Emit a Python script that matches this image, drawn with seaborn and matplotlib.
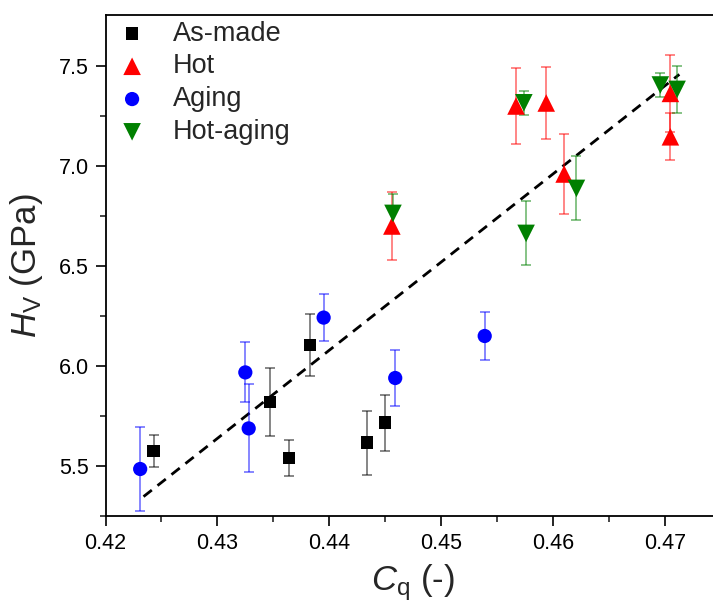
import matplotlib
matplotlib.use("Agg")
import matplotlib.pyplot as plt
import seaborn as sns
import pandas as pd

# values
asmade_x = [0.4243, 0.4347, 0.4364, 0.4383, 0.4434, 0.4450]
asmade_y = [5.575, 5.82, 5.54, 6.105, 5.617, 5.717]
asmade_e = [0.08, 0.168, 0.09, 0.157, 0.16, 0.14]

hot_x = [0.4456, 0.4567, 0.4594, 0.4610, 0.4705, 0.4705]
hot_y = [6.70, 7.30, 7.315, 6.96, 7.363, 7.146]
hot_e = [0.17, 0.19, 0.178, 0.20, 0.193, 0.117]

aging_x = [0.4231, 0.4325, 0.4328, 0.4395, 0.4459, 0.4539]
aging_y = [5.485, 5.968, 5.688, 6.242, 5.94, 6.15]
aging_e = [0.21, 0.15, 0.22, 0.118, 0.142, 0.118]

hotaging_x = [0.4457, 0.4574, 0.4576, 0.4621, 0.4696, 0.4711]
hotaging_y = [6.763, 7.316, 6.663, 6.888, 7.405, 7.383]
hotaging_e = [0.095, 0.06, 0.16, 0.16, 0.06, 0.118]

fit_x = [0.4234, 0.4713]
fit_y = [5.347, 7.458]

groups = [
    ("As-made", asmade_x, asmade_y, asmade_e, "black", "s", 80),
    ("Hot", hot_x, hot_y, hot_e, "red", "^", 160),
    ("Aging", aging_x, aging_y, aging_e, "blue", "o", 105),
    ("Hot-aging", hotaging_x, hotaging_y, hotaging_e, "green", "v", 160),
]

sns.set_style("ticks")
plt.rcParams["font.family"] = ["Liberation Sans", "DejaVu Sans"]
plt.rcParams["mathtext.fontset"] = "custom"
plt.rcParams["mathtext.rm"] = "Liberation Sans"
plt.rcParams["mathtext.it"] = "Liberation Sans:italic"

fig = plt.figure(figsize=(7.13, 6.08), dpi=100)
ax = fig.add_axes([105.5 / 713, 1 - 516 / 608, 0.055 * 11186 / 713, 501 / 608])

ax.plot(fit_x, fit_y, color="black", lw=2.0, ls=(0, (3.8, 2.6)), zorder=2)

for name, xs, ys, es, col, mk, size in groups:
    ax.errorbar(xs, ys, yerr=es, fmt="none", ecolor=col, alpha=0.6,
                elinewidth=1.1, capsize=3.8, capthick=1.1, zorder=3)

for name, xs, ys, es, col, mk, size in groups:
    df = pd.DataFrame({"x": xs, "y": ys})
    sns.scatterplot(data=df, x="x", y="y", ax=ax, color=col, marker=mk,
                    s=size, edgecolor="none", label=name, zorder=4)

ax.set_xlim(0.42, 0.475)
ax.set_ylim(5.25, 7.755)
ax.set_xticks([0.42, 0.43, 0.44, 0.45, 0.46, 0.47])
ax.set_xticks([0.425, 0.435, 0.445, 0.455, 0.465, 0.475], minor=True)
ax.set_yticks([5.5, 6.0, 6.5, 7.0, 7.5])
ax.set_yticks([5.25, 5.75, 6.25, 6.75, 7.25], minor=True)
ax.set_xticklabels(["0.42", "0.43", "0.44", "0.45", "0.46", "0.47"])
ax.set_yticklabels(["5.5", "6.0", "6.5", "7.0", "7.5"])
ax.tick_params(which="major", direction="out", length=7, width=1.2,
               labelsize=15.5, colors="black", pad=5)
ax.tick_params(which="minor", direction="out", length=4, width=1.2)
ax.tick_params(top=False, right=False, which="both")
for sp in ax.spines.values():
    sp.set_linewidth(1.3)
    sp.set_color("black")

ax.set_xlabel(r"$C_\mathrm{q}$ (-)", fontsize=25, labelpad=6)
ax.set_ylabel(r"$H_\mathrm{V}$ (GPa)", fontsize=25, labelpad=10)

ax.legend(loc="upper left", bbox_to_anchor=(0.008, 1.005), frameon=False,
          fontsize=19.5, handlelength=1.0, handletextpad=1.0,
          labelspacing=0.25, borderaxespad=0.1, borderpad=0.2)

fig.savefig("out.png", dpi=100)
